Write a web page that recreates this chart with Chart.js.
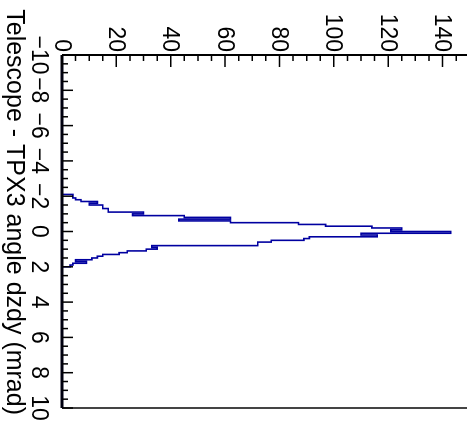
<!DOCTYPE html>
<html>
<head>
<meta charset="utf-8">
<script src="https://cdn.jsdelivr.net/npm/chart.js@4.4.1/dist/chart.umd.min.js"></script>
<style>
  html, body { margin: 0; padding: 0; background: #fff; overflow: hidden; }
  #wrap {
    position: absolute; left: 0; top: 0; width: 423px; height: 467px;
    transform-origin: 0 0;
    transform: translateX(467px) rotate(90deg);
  }
</style>
</head>
<body>
<div id="wrap"><canvas id="histChart" width="423" height="467"></canvas></div>
<script>
// lower bin edges (mrad), bin width 0.1
const binStart = [
  -2.1, -2.0, -1.9, -1.8, -1.7, -1.6, -1.5, -1.4, -1.3, -1.2, -1.1,
  -1.0, -0.9, -0.8, -0.7, -0.6, -0.5, -0.4, -0.3, -0.2, -0.1,
  0.0, 0.1, 0.2, 0.3, 0.4, 0.5, 0.6, 0.7, 0.8, 0.9,
  1.0, 1.1, 1.2, 1.3, 1.4, 1.5, 1.6, 1.7, 1.8, 1.9, 2.0
];
const counts = [
  4, 4, 5, 7, 13, 10, 15, 15, 17, 17, 30,
  26, 45, 62, 43, 62, 87, 97, 114, 125, 121,
  143, 110, 116, 91, 89, 77, 72, 72, 33, 35,
  31, 24, 21, 15, 13, 11, 5, 9, 4, 3, 0
];
const xTicks = [-10, -8, -6, -4, -2, 0, 2, 4, 6, 8, 10];
const yTicks = [0, 20, 40, 60, 80, 100, 120, 140];
const xTitle = "Telescope - TPX3 angle dzdy (mrad)";

function fmt(v) {
  return v < 0 ? "\u2212" + Math.abs(v) : String(v);
}

const rootAxes = {
  id: "rootAxes",
  afterDraw(chart) {
    const ctx = chart.ctx;
    const xs = chart.scales.x, ys = chart.scales.y;
    const a = chart.chartArea;
    ctx.save();

    // frame
    ctx.strokeStyle = "#444";
    ctx.lineWidth = 2;
    ctx.beginPath();
    ctx.moveTo(a.right, a.top); ctx.lineTo(a.right, a.bottom);
    ctx.stroke();
    ctx.strokeStyle = "#000";
    ctx.lineWidth = 2;
    ctx.beginPath();
    ctx.moveTo(a.left, a.top); ctx.lineTo(a.left, a.bottom);
    ctx.stroke();
    ctx.strokeStyle = "#000010";
    ctx.lineWidth = 3;
    ctx.beginPath();
    ctx.moveTo(a.left, a.bottom); ctx.lineTo(a.right, a.bottom);
    ctx.stroke();

    // ticks (inward)
    ctx.strokeStyle = "#000";
    ctx.lineWidth = 1.5;
    ctx.beginPath();
    for (let v = -10; v <= 10.001; v += 0.5) {
      const px = xs.getPixelForValue(v);
      const len = Math.abs(v % 2) < 0.01 ? 11 : 6;
      ctx.moveTo(px, a.bottom); ctx.lineTo(px, a.bottom - len);
    }
    for (let v = 0; v <= ys.max; v += 5) {
      const py = ys.getPixelForValue(v);
      const len = v % 20 === 0 ? 12 : 6;
      ctx.moveTo(a.left, py); ctx.lineTo(a.left + len, py);
    }
    ctx.stroke();

    // tick labels
    ctx.fillStyle = "#000";
    ctx.font = "23px 'Liberation Sans', Arial, sans-serif";
    ctx.textAlign = "center";
    ctx.textBaseline = "alphabetic";
    xTicks.forEach(v => {
      ctx.fillText(fmt(v), xs.getPixelForValue(v), a.bottom + 30);
    });
    ctx.textAlign = "right";
    ctx.textBaseline = "middle";
    yTicks.forEach(v => {
      ctx.fillText(String(v), a.left - 3, ys.getPixelForValue(v) + 1);
    });

    // axis title
    ctx.font = "25px 'Liberation Sans', Arial, sans-serif";
    ctx.textAlign = "right";
    ctx.textBaseline = "alphabetic";
    ctx.fillText(xTitle, a.right + 7, a.bottom + 55);
    ctx.restore();
  }
};

const points = [{ x: -10, y: 0 }];
binStart.forEach((x, i) => points.push({ x: x, y: counts[i] }));
points.push({ x: 10, y: 0 });

new Chart(document.getElementById("histChart"), {
  type: "line",
  data: {
    datasets: [
      {
        data: points,
        stepped: "before",
        borderColor: "#0000a0",
        borderWidth: 1.6,
        pointRadius: 0,
        fill: false,
      },
    ],
  },
  options: {
    responsive: false,
    animation: false,
    devicePixelRatio: 1,
    layout: { padding: { left: 55, right: 15, top: 0, bottom: 62 } },
    plugins: { legend: { display: false }, tooltip: { enabled: false } },
    scales: {
      x: { type: "linear", min: -10, max: 10, display: false },
      y: { type: "linear", min: 0, max: 149, display: false },
    },
  },
  plugins: [rootAxes],
});
</script>
</body>
</html>
